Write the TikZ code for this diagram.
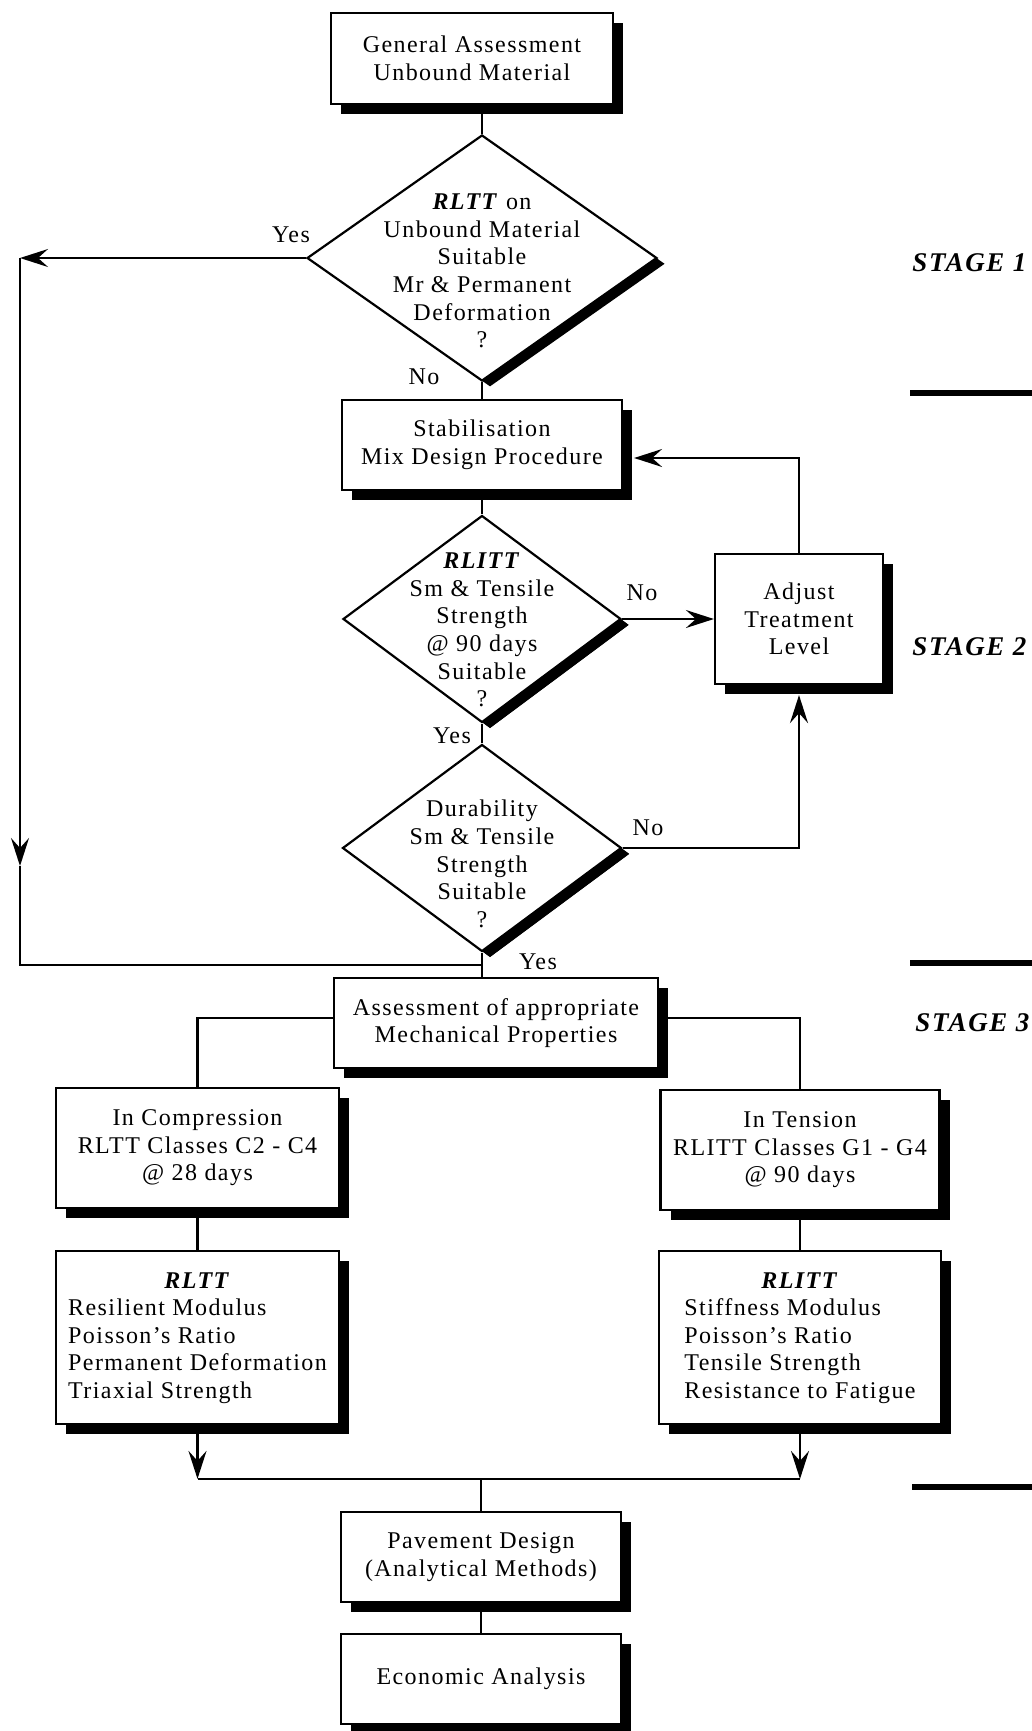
\documentclass[tikz,border=0pt]{standalone}
\usepackage{fontspec}
\setmainfont{Liberation Serif}[LetterSpace=6]
\usepackage{tikz}
\usetikzlibrary{shapes.geometric, arrows.meta, positioning, shadows}

\begin{document}
\begin{tikzpicture}[
  x=0.5pt, y=-0.5pt,
  font=\fontsize{12}{13.8}\selectfont,
  box/.style={draw, line width=1.1pt, fill=white, align=center, minimum width=140pt, minimum height=45pt, inner sep=2pt,
    drop shadow={shadow xshift=5pt, shadow yshift=-5pt, opacity=1, fill=black}},
  decision/.style={draw, diamond, line width=1.1pt, fill=white, inner sep=0pt,
    drop shadow={shadow xshift=4pt, shadow yshift=-2.9pt, opacity=1, fill=black}},
  qtext/.style={align=center, inner sep=0pt},
  lbl/.style={inner sep=0pt},
  stage/.style={anchor=west, inner sep=0pt, font=\fontsize{13.5}{16}\selectfont\bfseries\itshape},
  arr/.style={-{Stealth[length=14pt, width=9pt, inset=5pt]}, line width=1.1pt},
  line/.style={line width=1.1pt},
  sep/.style={line width=3pt}
]
\path[use as bounding box, fill=white] (0,0) rectangle (1032,1731);

\node[box, minimum width=141pt, minimum height=45.5pt] (gen) at (472,58.5) {General Assessment\\Unbound Material};
\node[decision, minimum width=175pt, minimum height=123pt] (q1) at (482,258) {};
\node[qtext, yshift=-6.5pt] (q1txt) at (q1) {\textbf{\textit{RLTT}} on\\Unbound Material\\Suitable\\Mr \& Permanent\\Deformation\\?};
\node[box] (stab) at (482,445) {Stabilisation\\Mix Design Procedure};
\node[decision, minimum width=139pt, minimum height=103.5pt, drop shadow={shadow xshift=4pt, shadow yshift=-3pt, opacity=1, fill=black}] (q2) at (482,619) {};
\node[qtext, yshift=-5.5pt] (q2txt) at (q2) {\textbf{\textit{RLITT}}\\Sm \& Tensile\\Strength\\@ 90 days\\Suitable\\?};
\node[box, minimum width=84pt, minimum height=65pt] (adj) at (799,619) {Adjust\\Treatment\\Level};
\node[decision, minimum width=139.5pt, minimum height=103.5pt, drop shadow={shadow xshift=4pt, shadow yshift=-3pt, opacity=1, fill=black}] (q3) at (482,848) {};
\node[qtext, yshift=-8pt] (q3txt) at (q3) {Durability\\Sm \& Tensile\\Strength\\Suitable\\?};
\node[box, minimum width=162pt] (assess) at (496,1023) {Assessment of appropriate\\Mechanical Properties};
\node[box, minimum width=141.5pt, minimum height=60pt] (comp) at (197.5,1148) {In Compression\\RLTT Classes C2 - C4\\@ 28 days};
\node[box, minimum width=139.5pt, minimum height=60pt] (tens) at (800,1150) {In Tension\\RLITT Classes G1 - G4\\@ 90 days};
\node[box, minimum width=141.5pt, minimum height=86.5pt, below=20.5pt of comp] (rltt) {\begin{tabular}{@{}l@{}}\multicolumn{1}{@{}c@{}}{\textbf{\textit{RLTT}}}\\Resilient Modulus\\Poisson's Ratio\\Permanent Deformation\\Triaxial Strength\end{tabular}};
\node[box, minimum width=141pt, minimum height=86.5pt, below=19.5pt of tens] (rlitt) {\begin{tabular}{@{}l@{}}\multicolumn{1}{@{}c@{}}{\textbf{\textit{RLITT}}}\\Stiffness Modulus\\Poisson's Ratio\\Tensile Strength\\Resistance to Fatigue\end{tabular}};
\node[box] (pave) at (481,1557) {Pavement Design\\(Analytical Methods)};
\node[box, below=15pt of pave] (econ) {Economic Analysis};

\node[lbl] (yes1) at (291,235) {Yes};
\node[lbl] (no1) at (424,377) {No};
\node[lbl] (no2) at (642,593) {No};
\node[lbl] (yes2) at (452,736) {Yes};
\node[lbl] (no3) at (648,828) {No};
\node[lbl] (yes3) at (538,962) {Yes};

\node[stage] (st1) at (912,263) {STAGE 1};
\node[stage] (st2) at (912,647) {STAGE 2};
\node[stage] (st3) at (915,1023) {STAGE 3};
\draw[sep] (910,393) -- (1032,393);
\draw[sep] (910,963) -- (1032,963);
\draw[sep] (912,1487) -- (1032,1487);

\coordinate (loopTop) at (20,258);
\coordinate (loopMid) at (20,866);
\coordinate (loopBot) at (20,965);
\coordinate[above=16pt of pave] (merge);

\draw[line] (q1.north |- gen.south) -- (q1.north);
\draw[line] (q1.south) -- (stab.north);
\draw[line] (stab.south) -- (q2.north);
\draw[arr] (q2.east) -- (adj.west);
\draw[arr] (adj.north) |- ([shift={(5.5pt,-6.5pt)}]stab.east);
\draw[line] (q2.south) -- (q3.north);
\draw[arr] (q3.east) -| ([yshift=-5pt]adj.south);
\draw[arr] (q1.west) -- (loopTop);
\draw[arr] (loopTop) -- (loopMid);
\draw[line] (loopMid) -- (loopBot) -- (loopBot -| q3.south);
\draw[line] (q3.south) -- (q3.south |- assess.north);
\draw[line] ([yshift=2.5pt]assess.west) -| (comp.north);
\draw[line] ([yshift=2.5pt]assess.east) -| (tens.north);
\draw[line] (comp) -- (rltt);
\draw[line] (tens) -- (rlitt);
\draw[arr] (rltt.south) -- (rltt.south |- merge);
\draw[arr] (rlitt.south) -- (rlitt.south |- merge);
\draw[line] (rltt.south |- merge) -- (rlitt.south |- merge);
\draw[line] (merge) -- (pave);
\draw[line] (pave) -- (econ);
\end{tikzpicture}
\end{document}
